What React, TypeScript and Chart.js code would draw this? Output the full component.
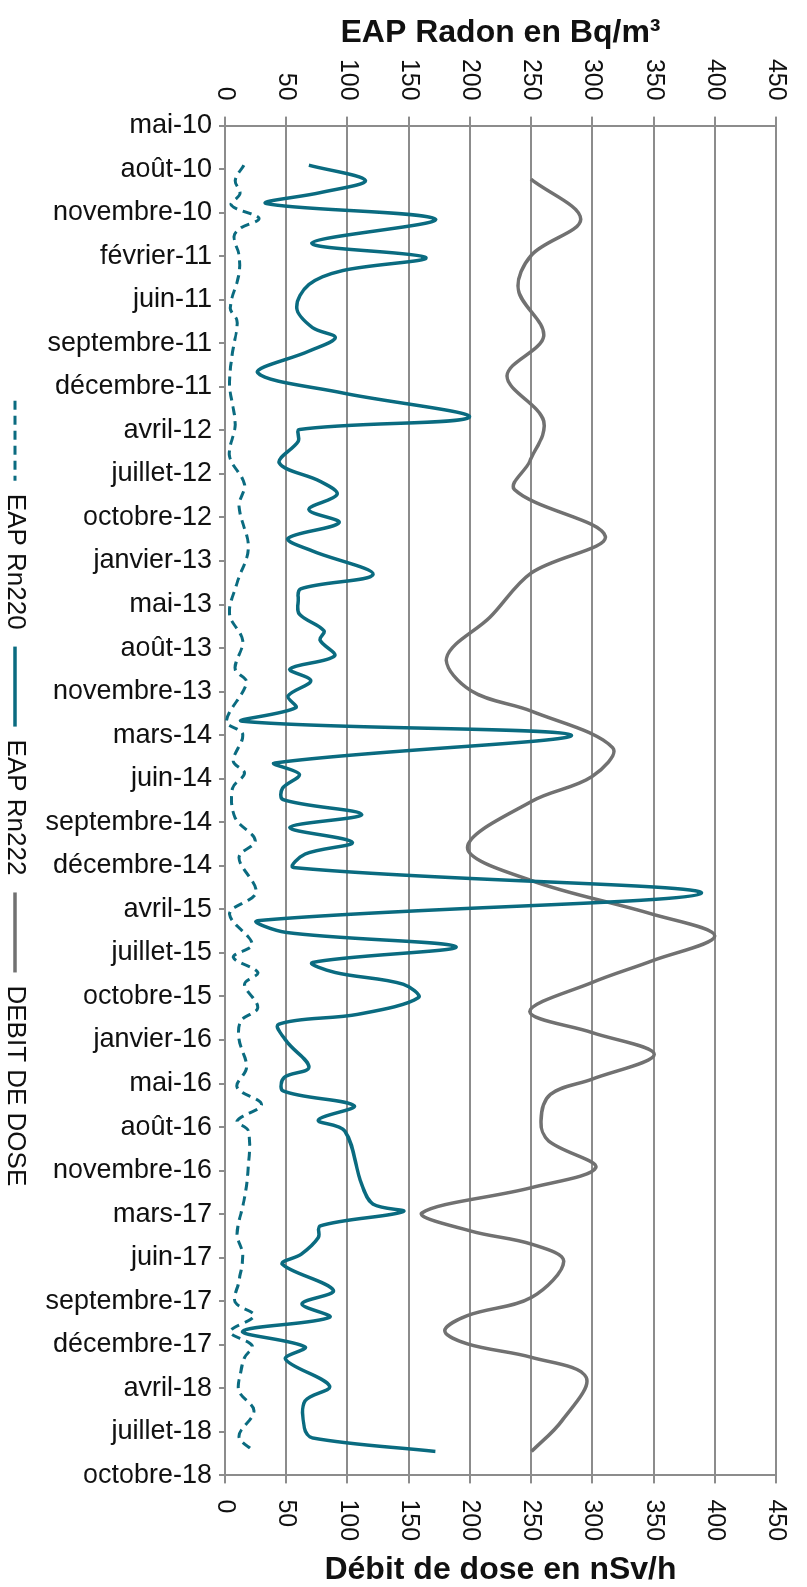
import React, { useEffect, useRef } from 'react';
import { Chart, registerables } from 'chart.js';

Chart.register(...registerables);

// Tick labels of the time axis (one every period unit)
const periodLabels = [
  'mai-10', 'août-10', 'novembre-10', 'février-11', 'juin-11', 'septembre-11', 'décembre-11',
  'avril-12', 'juillet-12', 'octobre-12', 'janvier-13', 'mai-13', 'août-13', 'novembre-13',
  'mars-14', 'juin-14', 'septembre-14', 'décembre-14', 'avril-15', 'juillet-15', 'octobre-15',
  'janvier-16', 'mai-16', 'août-16', 'novembre-16', 'mars-17', 'juin-17', 'septembre-17',
  'décembre-17', 'avril-18', 'juillet-18', 'octobre-18',
];

const radonAxisTitle = 'EAP Radon en Bq/m³';
const doseAxisTitle = 'Débit de dose en nSv/h';
const seriesNames = ['EAP Rn220', 'EAP Rn222', 'DEBIT DE DOSE'];

// EAP Rn220 — position in period units (0 = mai-10) and value
const rn220Pos = [0.91, 1.26, 1.56, 1.83, 2.13, 2.36, 2.55, 2.97, 3.42, 4.19, 4.49, 5.2, 5.95, 6.87, 7.59, 8.24, 8.74, 9.7, 10.5, 11.22, 11.83, 12.48, 12.79, 13.68, 13.98, 14.6, 14.87, 15.22, 15.9, 16.42, 16.81, 17.61, 18.1, 18.8, 19.1, 19.45, 19.72, 20.26, 20.56, 20.98, 21.63, 22.09, 22.48, 22.86, 23.09, 24.08, 24.7, 25.46, 25.92, 26.54, 27.02, 27.33, 27.7, 28.02, 28.29, 28.6, 29.06, 29.52, 30.1, 30.45];
const rn220Val = [15.4, 8.3, 12.3, 5.2, 27.8, 12.3, 7.4, 11.4, 11.4, 4.3, 9.9, 6.2, 3.7, 8.3, 3.7, 16, 11.4, 19.1, 9.9, 3.7, 14.5, 8.3, 17.6, 1.2, 14.5, 6.8, 16, 6.2, 8.3, 24.7, 11.4, 25.3, 3.7, 22.2, 6.8, 26.8, 16, 26.8, 13, 11.4, 17.6, 9.9, 29.9, 9.9, 19.1, 18.5, 15.4, 9.9, 14.5, 11.4, 8.3, 23.7, 4.3, 22.2, 16, 13, 11.4, 23.7, 11.4, 23.7];

// EAP Rn222
const rn222Pos = [0.91, 1.26, 1.54, 1.79, 2.15, 2.7, 3.03, 3.33, 3.65, 4.19, 4.64, 4.87, 5.18, 5.68, 6.14, 6.7, 6.98, 7.25, 7.75, 8.17, 8.47, 8.82, 9.12, 9.48, 9.77, 10.31, 10.64, 10.91, 11.22, 11.6, 11.82, 12.18, 12.48, 12.75, 13.1, 13.37, 13.68, 14.0, 14.64, 14.9, 15.22, 15.48, 15.82, 16.12, 16.46, 16.73, 17.04, 17.63, 18.26, 18.53, 18.86, 19.22, 19.45, 19.72, 20.03, 20.41, 20.64, 21.02, 21.63, 21.86, 22.17, 22.51, 22.84, 23.09, 24.31, 24.77, 24.94, 25.27, 25.54, 25.92, 26.15, 26.75, 27.06, 27.37, 27.69, 28.05, 28.33, 28.95, 29.29, 29.91, 30.14, 30.45];
const rn222Val = [68.5, 114.7, 77.7, 33.9, 171.8, 70.9, 164, 96, 68.5, 58.6, 71.5, 90, 68.5, 26.8, 96, 199.5, 60.8, 59.8, 44.4, 77.7, 91.6, 68.5, 93.1, 51.5, 71.5, 120.9, 61.7, 59.8, 60.8, 80.8, 77.7, 89.4, 53, 70, 51.5, 57.7, 14.5, 282.8, 40.7, 60.8, 46.9, 47.5, 111.6, 53, 104, 65.4, 56.1, 389, 26.8, 50, 188.7, 71.5, 90, 145.6, 157.9, 108.6, 43.8, 50, 68.5, 48.4, 47.5, 105.5, 76.2, 97.8, 111.6, 120.9, 145.6, 77.7, 76.2, 62.3, 46.9, 88.5, 62.9, 85.4, 14.5, 65.4, 49.3, 85.4, 65.4, 64.8, 71.5, 171.8];

// Débit de dose
const dosePos = [1.23, 2.15, 2.97, 3.77, 4.83, 5.75, 6.79, 7.71, 8.36, 9.43, 10.27, 11.29, 12.22, 12.98, 13.45, 14.29, 14.95, 15.52, 16.58, 17.34, 18.11, 18.61, 19.18, 19.68, 20.35, 20.83, 21.33, 21.9, 22.25, 22.86, 23.32, 23.93, 24.39, 24.97, 25.39, 25.69, 26.08, 26.91, 27.33, 27.68, 27.98, 28.29, 28.75, 29.75, 30.45];
const doseVal = [249.8, 290.5, 250.4, 239.6, 260.3, 230.4, 260.3, 248.9, 236.5, 310.6, 250.4, 216.5, 181, 201, 250.4, 316.7, 299.8, 250.4, 198, 250.4, 349, 400, 349, 299.8, 248.9, 299.8, 350.6, 299.8, 265.8, 258, 264.3, 302.8, 250.4, 161, 201, 250.4, 276.6, 250.4, 198, 179.5, 198, 250.4, 295, 275, 250.4];

const TEAL = '#0a6b80';
const GREY = '#717171';
const GRID = '#8c8c8c';
const TEXT = '#111111';
const FONT = "'Liberation Sans', Arial, Helvetica, sans-serif";

const W = 1587;
const H = 807;

const toPoints = (pos: number[], val: number[]) => pos.map((x, i) => ({ x, y: val[i] }));

const rightTitlePlugin = {
  id: 'rightTitle',
  afterDraw(chart: any) {
    const s = chart.scales.y2;
    const ctx = chart.ctx;
    ctx.save();
    ctx.translate(s.right - 17, (s.top + s.bottom) / 2);
    ctx.rotate(-Math.PI / 2);
    ctx.font = `bold 32px ${FONT}`;
    ctx.fillStyle = TEXT;
    ctx.textAlign = 'center';
    ctx.textBaseline = 'middle';
    ctx.fillText(doseAxisTitle, 0, 0);
    ctx.restore();
  },
};

export default function App() {
  const ref = useRef<HTMLCanvasElement | null>(null);

  useEffect(() => {
    if (!ref.current) return;
    Chart.defaults.font.family = FONT;
    const baseGenerate = (Chart.defaults as any).plugins.legend.labels.generateLabels;
    const chart = new Chart(ref.current, {
      type: 'line',
      data: {
        datasets: [
          {
            label: seriesNames[0],
            data: toPoints(rn220Pos, rn220Val),
            borderColor: TEAL,
            backgroundColor: TEAL,
            borderWidth: 3,
            borderDash: [9, 6],
            pointRadius: 0,
            tension: 0.35,
            yAxisID: 'y',
          },
          {
            label: seriesNames[1],
            data: toPoints(rn222Pos, rn222Val),
            borderColor: TEAL,
            backgroundColor: TEAL,
            borderWidth: 3.5,
            pointRadius: 0,
            tension: 0.35,
            yAxisID: 'y',
          },
          {
            label: seriesNames[2],
            data: toPoints(dosePos, doseVal),
            borderColor: GREY,
            backgroundColor: GREY,
            borderWidth: 3.5,
            pointRadius: 0,
            tension: 0.35,
            yAxisID: 'y2',
          },
        ],
      },
      options: {
        responsive: false,
        animation: false,
        devicePixelRatio: 1,
        layout: { padding: { top: 23, bottom: -8, left: 0, right: 0 } },
        plugins: {
          legend: {
            position: 'bottom',
            labels: {
              usePointStyle: true,
              pointStyle: 'line',
              pointStyleWidth: 80,
              padding: 17,
              color: TEXT,
              font: { size: 26 },
              generateLabels: (c: any) =>
                baseGenerate(c).map((item: any) => {
                  const ds = c.data.datasets[item.datasetIndex];
                  return {
                    ...item,
                    lineWidth: ds.borderWidth,
                    lineDash: ds.borderDash || [],
                    strokeStyle: ds.borderColor,
                    fillStyle: ds.borderColor,
                    lineCap: 'butt',
                  };
                }),
            },
          },
          tooltip: { enabled: false },
        },
        scales: {
          x: {
            type: 'linear',
            position: 'bottom',
            min: 0,
            max: periodLabels.length - 1,
            afterBuildTicks: (s: any) => {
              s.ticks = periodLabels.map((_, i) => ({ value: i }));
            },
            afterFit: (s: any) => {
              s.height = 180;
            },
            ticks: {
              autoSkip: false,
              minRotation: 90,
              maxRotation: 90,
              padding: 7,
              color: TEXT,
              font: { size: 27 },
              callback: (_v: any, i: number) => periodLabels[i],
            },
            grid: { display: true, drawOnChartArea: false, drawTicks: true, tickLength: 6, color: GRID, lineWidth: 2 },
            border: { display: true, color: GRID, width: 2 },
          },
          y: {
            type: 'linear',
            position: 'left',
            min: 0,
            max: 450,
            afterFit: (s: any) => {
              s.width = 125.6;
            },
            ticks: { stepSize: 50, padding: 16, color: TEXT, font: { size: 25 } },
            grid: { color: GRID, lineWidth: 2, tickLength: 9 },
            border: { display: true, color: GRID, width: 2 },
            title: {
              display: true,
              text: radonAxisTitle,
              color: TEXT,
              font: { size: 32, weight: 'bold' },
              padding: { top: 14, bottom: 0 },
            },
          },
          y2: {
            type: 'linear',
            position: 'right',
            min: 0,
            max: 450,
            afterFit: (s: any) => {
              s.width = 111.6;
            },
            ticks: { stepSize: 50, padding: 16, color: TEXT, font: { size: 25 } },
            grid: { drawOnChartArea: false, drawTicks: true, color: GRID, lineWidth: 2, tickLength: 8 },
            border: { display: true, color: GRID, width: 2 },
          },
        },
      },
      plugins: [rightTitlePlugin],
    } as any);
    return () => chart.destroy();
  }, []);

  return (
    <div
      style={{
        position: 'absolute',
        left: 0,
        top: 0,
        width: W,
        height: H,
        transformOrigin: '0 0',
        transform: `translate(${H}px, 0px) rotate(90deg)`,
        background: '#fff',
      }}
    >
      <canvas ref={ref} width={W} height={H} style={{ display: 'block', width: W, height: H }} />
    </div>
  );
}
